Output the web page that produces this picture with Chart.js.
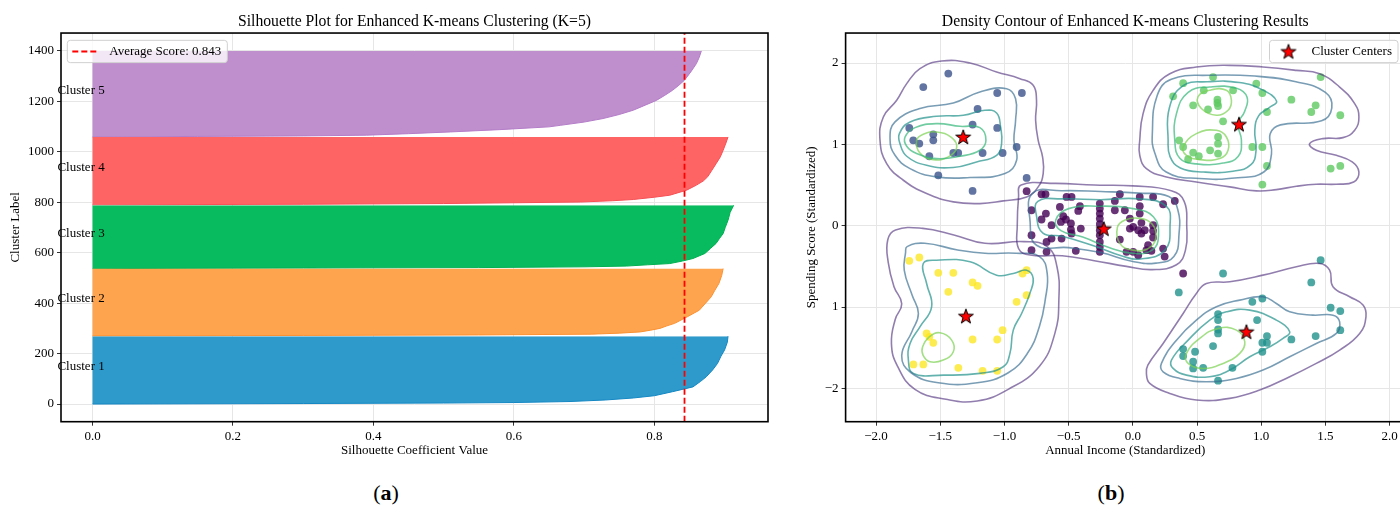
<!DOCTYPE html>
<html lang="en">
<head>
<meta charset="UTF-8">
<title>Enhanced K-means clustering: silhouette and density contour</title>
<script src="https://cdn.jsdelivr.net/npm/chart.js"></script>
<style>
  html, body { margin: 0; padding: 0; background: #fff; }
  body { width: 1400px; height: 516px; overflow: hidden; position: relative; font-family: "Liberation Serif", "Times New Roman", serif; }
  #silhouette { position: absolute; left: 0; top: 0; }
  #density { position: absolute; left: 790px; top: 0; }
  .tag { position: absolute; top: 480px; font-size: 22px; line-height: 26px; color: #000; transform: translateX(-50%); }
</style>
</head>
<body>
<canvas id="silhouette" width="790" height="470"></canvas>
<canvas id="density" width="630" height="470"></canvas>
<div class="tag" style="left:386px">(<b>a</b>)</div>
<div class="tag" style="left:1111px">(<b>b</b>)</div>

<script>
  // ---------- (a) silhouette: [position on cluster axis, silhouette coefficient] ----------
  const silCluster1 = [[0,0],[2,0.3],[4,0.5],[6,0.6],[10,0.68],[16,0.73],[24,0.77],[33,0.80],[49,0.826],[68,0.855],[90,0.866],[108,0.874],[135,0.883],[161,0.89],[190,0.895],[214,0.90],[245,0.904],[269,0.905]];
  const silCluster2 = [[270,0],[272,0.3],[274,0.55],[277,0.71],[281,0.75],[286,0.78],[293,0.795],[300,0.808],[310,0.818],[320,0.829],[346,0.847],[372,0.864],[400,0.873],[425,0.881],[450,0.886],[478,0.892],[510,0.896],[537,0.898]];
  const silCluster3 = [[537,0],[539,0.3],[541,0.55],[544,0.70],[547,0.76],[552,0.79],[557,0.822],[567,0.84],[577,0.855],[597,0.872],[617,0.88],[637,0.888],[657,0.893],[676,0.898],[700,0.901],[729,0.905],[760,0.908],[788,0.913]];
  const silCluster4 = [[790,0],[792,0.3],[795,0.5],[801,0.695],[806,0.74],[811,0.77],[820,0.80],[828,0.822],[848,0.846],[868,0.86],[885,0.87],[901,0.876],[927,0.882],[953,0.888],[980,0.894],[1006,0.898],[1035,0.902],[1059,0.905]];
  const silCluster5 = [[1059,0],[1061,0.15],[1063,0.3],[1066,0.39],[1072,0.45],[1079,0.51],[1088,0.58],[1099,0.65],[1105,0.666],[1118,0.70],[1132,0.727],[1148,0.75],[1165,0.77],[1185,0.787],[1204,0.803],[1224,0.815],[1244,0.826],[1264,0.835],[1284,0.843],[1317,0.852],[1350,0.86],[1375,0.864],[1400,0.867]];
  const silNames = ['Cluster 1', 'Cluster 2', 'Cluster 3', 'Cluster 4', 'Cluster 5'];
  const silColors = ['rgb(46,154,203)', 'rgb(255,164,78)', 'rgb(8,187,95)', 'rgb(255,100,100)', 'rgb(190,142,205)'];
  const silEdges = ['rgb(20,135,195)', 'rgb(250,145,50)', 'rgb(0,175,80)', 'rgb(245,80,85)', 'rgb(180,125,200)'];
  const averageScore = 0.843;
  const silXTicks = [0, 0.2, 0.4, 0.6, 0.8];
  const silXTickLabels = ['0.0', '0.2', '0.4', '0.6', '0.8'];
  const silYTicks = [0, 200, 400, 600, 800, 1000, 1200, 1400];
  const silYTickLabels = ['0', '200', '400', '600', '800', '1000', '1200', '1400'];
  const silXRange = [-0.0449, 0.9619];
  const silYRange = [-70, 1471];

  // ---------- (b) density contour: points [x, y] per cluster ----------
  const ptsCenter = [[-0.827,0.424],[-0.711,0.387],[-0.680,0.387],[-0.516,0.354],[-0.477,0.354],[-0.789,0.190],[-0.568,0.231],[-0.412,0.240],[-0.425,0.182],[-0.677,0.149],[-0.711,0.076],[-0.542,0.117],[-0.633,0.006],[-0.560,0.047],[-0.521,0.076],[-0.482,0.027],[-0.482,-0.047],[-0.477,-0.096],[-0.405,-0.035],[-0.789,-0.117],[-0.633,-0.158],[-0.672,-0.199],[-0.555,-0.158],[-0.789,-0.301],[-0.672,-0.321],[-0.444,-0.309],
    [-0.257,0.272],[-0.257,0.211],[-0.257,0.149],[-0.257,0.088],[-0.257,0.02],[-0.257,-0.055],[-0.257,-0.117],[-0.257,-0.199],[-0.257,-0.260],[-0.257,-0.321],
    [-0.101,0.387],[-0.140,0.305],[0.054,0.354],[0.158,0.354],[0.236,0.264],[0.327,0.305],[-0.140,0.190],[-0.062,0.190],[0.054,0.240],[0.054,0.149],[-0.023,0.088],[0.003,-0.014],[-0.023,-0.035],[0.042,-0.055],[0.093,-0.055],[0.067,-0.096],[0.067,0.035],[0.158,0.006],[0.158,-0.063],[0.158,-0.145],[-0.101,-0.170],[0.119,-0.240],[0.236,-0.281],[0.248,-0.38],[-0.049,-0.321],[0.003,-0.321],[0.042,-0.362],[0.106,-0.301],[0.145,-0.309],[0.392,-0.588]];
  const ptsUpperLeft = [[-1.437,1.870],[-1.632,1.705],[-1.056,1.632],[-0.864,1.632],[-1.209,1.435],[-1.248,1.243],[-1.056,1.202],[-1.741,1.202],[-1.554,1.124],[-1.554,1.050],[-1.710,1.050],[-1.663,1.010],[-1.585,0.854],[-1.398,0.894],[-1.360,0.894],[-1.170,0.894],[-1.014,0.894],[-0.905,0.968],[-1.515,0.620],[-0.827,0.587],[-1.248,0.428]];
  const ptsLowerRight = [[1.463,-0.424],[1.390,-0.698],[0.703,-0.588],[0.358,-0.821],[0.931,-0.936],[1.009,-0.895],[1.541,-1.009],[1.616,-1.050],[1.616,-1.284],[0.664,-1.087],[0.664,-1.161],[0.664,-1.276],[0.664,-1.325],[0.968,-1.161],[1.045,-1.357],[1.009,-1.439],[1.045,-1.439],[1.009,-1.550],[1.235,-1.398],[1.424,-1.357],[0.625,-1.480],[0.485,-1.550],[0.392,-1.517],[0.392,-1.603],[0.470,-1.673],[0.470,-1.755],[0.548,-1.747],[0.776,-1.747],[0.664,-1.906]];
  const ptsUpperRight = [[0.625,1.828],[0.392,1.753],[0.962,1.746],[0.314,1.591],[0.553,1.665],[0.781,1.665],[1.009,1.632],[1.463,1.828],[1.235,1.550],[0.470,1.480],[0.659,1.550],[0.659,1.509],[0.664,1.472],[0.586,1.431],[1.045,1.398],[1.424,1.480],[1.390,1.398],[1.616,1.358],[0.703,1.284],[0.361,1.050],[0.392,0.968],[0.470,0.899],[0.514,0.854],[0.431,0.817],[0.664,1.091],[0.664,1.009],[0.602,0.927],[0.664,0.887],[0.931,0.968],[1.009,0.968],[1.045,0.735],[1.541,0.702],[1.616,0.735],[1.009,0.506]];
  const ptsLowerLeft = [[-1.741,-0.432],[-1.663,-0.391],[-1.515,-0.579],[-1.398,-0.579],[-1.248,-0.698],[-1.209,-0.739],[-1.437,-0.813],[-0.859,-0.588],[-0.827,-0.547],[-0.827,-0.854],[-0.905,-0.936],[-1.014,-1.284],[-1.056,-1.399],[-1.248,-1.399],[-1.585,-1.366],[-1.554,-1.440],[-1.606,-1.325],[-1.709,-1.706],[-1.632,-1.706],[-1.359,-1.747],[-1.170,-1.784],[-1.056,-1.784]];
  const clusterCenters = [[-0.226,-0.037],[-1.321,1.091],[0.885,-1.304],[0.827,1.247],[-1.300,-1.112]];
  const pointColors = ['rgba(68,1,84,0.8)', 'rgba(59,82,139,0.8)', 'rgba(33,145,140,0.8)', 'rgba(94,201,98,0.8)', 'rgba(253,231,37,0.8)'];

  // density contour lines, [x, y] closed paths; level of each path in the matching *Levels array
  const contourCenter = [
    [[-0.87,0.50],[-0.60,0.52],[-0.30,0.50],[0.0,0.49],[0.30,0.43],[0.40,0.30],[0.42,0.0],[0.41,-0.30],[0.34,-0.48],[0.15,-0.54],[-0.05,-0.50],[-0.30,-0.43],[-0.55,-0.37],[-0.80,-0.36],[-0.89,-0.28],[-0.90,0.0],[-0.89,0.35]],
    [[-0.78,0.40],[-0.55,0.43],[-0.25,0.42],[0.05,0.40],[0.28,0.36],[0.35,0.20],[0.36,-0.10],[0.32,-0.38],[0.18,-0.46],[0.0,-0.44],[-0.25,-0.33],[-0.50,-0.27],[-0.75,-0.24],[-0.80,0.05]],
    [[-0.74,0.30],[-0.55,0.33],[-0.25,0.32],[0.05,0.33],[0.26,0.24],[0.29,0.0],[0.25,-0.30],[0.06,-0.41],[-0.09,-0.37],[-0.30,-0.25],[-0.55,-0.13],[-0.70,-0.09],[-0.75,0.12]],
    [[-0.60,0.07],[-0.50,0.21],[-0.257,0.24],[0.0,0.21],[0.16,0.11],[0.20,-0.13],[0.15,-0.30],[0.0,-0.34],[-0.18,-0.27],[-0.39,-0.14],[-0.56,-0.06]],
    [[-0.12,-0.02],[-0.06,0.07],[0.05,0.09],[0.15,0.02],[0.18,-0.15],[0.12,-0.28],[0.0,-0.30],[-0.10,-0.22]]
  ];
  const contourCenterLevels = [1, 2, 3, 4, 5];
  const contourUpperLeft = [
    [[-1.489,2.025],[-1.268,2.000],[-1.061,1.890],[-0.879,1.808],[-0.776,1.726],[-0.750,1.542],[-0.757,1.296],[-0.737,1.050],[-0.703,0.846],[-0.698,0.641],[-0.737,0.477],[-0.827,0.354],[-1.009,0.305],[-1.191,0.272],[-1.398,0.293],[-1.606,0.395],[-1.787,0.559],[-1.917,0.764],[-1.969,1.050],[-1.943,1.337],[-1.839,1.542],[-1.761,1.747],[-1.658,1.931]],
    [[-1.891,1.071],[-1.852,1.276],[-1.658,1.440],[-1.398,1.509],[-1.191,1.644],[-0.983,1.685],[-0.913,1.562],[-0.913,1.296],[-0.926,1.050],[-0.905,0.805],[-0.996,0.641],[-1.268,0.592],[-1.528,0.600],[-1.735,0.702],[-1.852,0.866]],
    [[-1.818,1.132],[-1.735,1.276],[-1.528,1.345],[-1.320,1.358],[-1.152,1.419],[-1.061,1.386],[-1.030,1.214],[-1.022,1.009],[-1.061,0.866],[-1.217,0.784],[-1.398,0.715],[-1.606,0.743],[-1.761,0.854],[-1.813,1.009]],
    [[-1.774,1.091],[-1.696,1.206],[-1.528,1.255],[-1.346,1.222],[-1.191,1.206],[-1.144,1.050],[-1.191,0.928],[-1.346,0.854],[-1.528,0.825],[-1.684,0.887],[-1.761,0.977]],
    [[-1.684,1.050],[-1.632,1.124],[-1.528,1.153],[-1.411,1.083],[-1.372,0.960],[-1.437,0.846],[-1.554,0.813],[-1.658,0.895]]
  ];
  const contourUpperLeftLevels = [1, 2, 3, 4, 5];
  const contourUpperRight = [
    [[0.054,1.050],[0.080,1.378],[0.158,1.664],[0.288,1.869],[0.495,1.951],[0.755,1.972],[1.014,1.951],[1.274,1.910],[1.455,1.869],[1.611,1.705],[1.728,1.501],[1.761,1.337],[1.728,1.173],[1.637,1.083],[1.481,1.071],[1.377,1.009],[1.429,0.927],[1.585,0.866],[1.709,0.784],[1.761,0.661],[1.720,0.538],[1.585,0.510],[1.429,0.510],[1.274,0.485],[1.118,0.444],[0.962,0.428],[0.755,0.477],[0.495,0.538],[0.262,0.600],[0.106,0.702],[0.054,0.866]],
    [[0.152,1.131],[0.19,1.60],[0.30,1.80],[0.60,1.85],[0.95,1.84],[1.27,1.77],[1.50,1.64],[1.55,1.45],[1.47,1.29],[1.15,1.24],[1.07,1.13],[1.08,0.88],[1.02,0.66],[0.82,0.59],[0.52,0.58],[0.26,0.66],[0.17,0.90]],
    [[0.275,1.050],[0.285,1.45],[0.39,1.72],[0.58,1.77],[0.83,1.76],[1.01,1.67],[1.12,1.53],[1.06,1.45],[0.98,1.35],[0.95,1.17],[0.96,0.93],[0.92,0.75],[0.78,0.67],[0.55,0.66],[0.37,0.71],[0.29,0.85]],
    [[0.327,1.050],[0.340,1.378],[0.431,1.64],[0.599,1.706],[0.807,1.69],[0.89,1.58],[0.87,1.40],[0.82,1.255],[0.846,1.050],[0.820,0.85],[0.703,0.77],[0.495,0.76],[0.366,0.83]],
    [[0.508,1.586],[0.599,1.665],[0.729,1.665],[0.768,1.542],[0.742,1.419],[0.651,1.358],[0.534,1.441]],
    [[0.392,0.968],[0.495,1.132],[0.651,1.173],[0.729,1.091],[0.742,0.927],[0.677,0.825],[0.521,0.813],[0.418,0.866]]
  ];
  const contourUpperRightLevels = [1, 2, 3, 4, 5, 5];
  const contourLowerLeft = [
    [[-1.848,-0.053],[-1.636,-0.033],[-1.394,-0.114],[-1.152,-0.216],[-0.848,-0.196],[-0.667,-0.257],[-0.591,-0.502],[-0.576,-0.910],[-0.606,-1.318],[-0.727,-1.727],[-0.970,-2.012],[-1.212,-2.155],[-1.455,-2.135],[-1.697,-2.012],[-1.833,-1.727],[-1.88,-1.45],[-1.85,-1.15],[-1.80,-0.96],[-1.86,-0.75],[-1.905,-0.45],[-1.909,-0.176]],
    [[-1.758,-0.257],[-1.621,-0.216],[-1.364,-0.298],[-1.152,-0.339],[-0.909,-0.339],[-0.727,-0.380],[-0.667,-0.584],[-0.682,-0.910],[-0.727,-1.237],[-0.818,-1.563],[-0.970,-1.808],[-1.212,-1.931],[-1.515,-1.931],[-1.727,-1.808],[-1.80,-1.60],[-1.72,-1.30],[-1.67,-1.08],[-1.72,-0.85],[-1.78,-0.55],[-1.77,-0.33]],
    [[-1.632,-0.465],[-1.528,-0.424],[-1.268,-0.444],[-1.061,-0.608],[-0.931,-0.588],[-0.827,-0.547],[-0.776,-0.649],[-0.802,-0.833],[-0.866,-1.079],[-0.931,-1.284],[-0.957,-1.570],[-1.009,-1.734],[-1.191,-1.816],[-1.476,-1.837],[-1.709,-1.816],[-1.748,-1.652],[-1.735,-1.448],[-1.658,-1.243],[-1.567,-0.997],[-1.606,-0.711]],
    [[-1.637,-1.489],[-1.585,-1.366],[-1.502,-1.317],[-1.411,-1.407],[-1.398,-1.550],[-1.476,-1.652],[-1.580,-1.673],[-1.634,-1.591]]
  ];
  const contourLowerLeftLevels = [1, 2, 3, 5];
  const contourLowerRight = [
    [[0.117,-1.714],[0.236,-1.448],[0.392,-1.079],[0.495,-0.833],[0.573,-0.710],[0.755,-0.690],[1.014,-0.608],[1.274,-0.505],[1.455,-0.464],[1.533,-0.546],[1.559,-0.751],[1.689,-0.874],[1.793,-0.976],[1.816,-1.120],[1.767,-1.325],[1.611,-1.529],[1.429,-1.693],[1.222,-1.857],[0.988,-2.021],[0.755,-2.123],[0.495,-2.144],[0.288,-2.062],[0.132,-1.939],[0.106,-1.816]],
    [[0.223,-1.693],[0.340,-1.407],[0.495,-1.161],[0.651,-0.997],[0.833,-0.915],[1.014,-0.874],[1.118,-0.956],[1.222,-1.059],[1.403,-1.100],[1.559,-1.100],[1.611,-1.182],[1.585,-1.325],[1.429,-1.448],[1.222,-1.611],[1.014,-1.775],[0.807,-1.878],[0.573,-1.919],[0.366,-1.878],[0.236,-1.796]],
    [[0.301,-1.652],[0.431,-1.407],[0.599,-1.161],[0.729,-1.059],[0.911,-1.038],[1.118,-1.161],[1.222,-1.304],[1.170,-1.386],[1.066,-1.489],[0.911,-1.611],[0.755,-1.775],[0.599,-1.857],[0.418,-1.837],[0.314,-1.755]],
    [[0.418,-1.570],[0.521,-1.386],[0.664,-1.263],[0.807,-1.284],[0.872,-1.427],[0.833,-1.570],[0.703,-1.693],[0.547,-1.755],[0.431,-1.693]]
  ];
  const contourLowerRightLevels = [1, 2, 3, 5];
  const levelColors = { 1: 'rgba(72,40,120,0.6)', 2: 'rgba(49,104,142,0.65)', 3: 'rgba(33,145,140,0.7)', 4: 'rgba(53,183,121,0.7)', 5: 'rgba(122,209,81,0.7)' };

  const denXTicks = [-2, -1.5, -1, -0.5, 0, 0.5, 1, 1.5, 2];
  const denXTickLabels = ['\u22122.0', '\u22121.5', '\u22121.0', '\u22120.5', '0.0', '0.5', '1.0', '1.5', '2.0'];
  const denYTicks = [-2, -1, 0, 1, 2];
  const denYTickLabels = ['\u22122', '1', '0', '1', '2'];
  const denXRange = [-2.237, 2.12];
  const denYRange = [-2.41, 2.369];

  // ---------- shared bits ----------
  const FONT = "'Liberation Serif', 'Times New Roman', serif";
  Chart.defaults.font.family = FONT;
  Chart.defaults.font.size = 13;
  Chart.defaults.color = '#000';

  function makeStar(R) {
    const c = document.createElement('canvas');
    const s = Math.ceil(R * 2 + 4);
    c.width = s; c.height = s;
    const g = c.getContext('2d');
    g.beginPath();
    for (let k = 0; k < 10; k++) {
      const r = k % 2 ? R * 0.4 : R;
      const a = -Math.PI / 2 + k * Math.PI / 5;
      const px = s / 2 + r * Math.cos(a), py = s / 2 + 0.6 + r * Math.sin(a);
      if (k) g.lineTo(px, py); else g.moveTo(px, py);
    }
    g.closePath();
    g.fillStyle = '#ff0000';
    g.fill();
    g.lineWidth = 1;
    g.strokeStyle = '#000';
    g.stroke();
    return c;
  }
  const starImg = makeStar(7.8);

  const framePlugin = {
    id: 'frame',
    afterDatasetsDraw(chart) {
      const { ctx, chartArea: a } = chart;
      ctx.save();
      ctx.strokeStyle = '#000';
      ctx.lineWidth = 1.6;
      ctx.strokeRect(a.left, a.top, a.right - a.left, a.bottom - a.top);
      ctx.restore();
    }
  };

  // matplotlib style legend box; right = true puts it in the upper right corner
  function drawLegendBox(chart, label, right, drawSample) {
    const { ctx, chartArea: a } = chart;
    ctx.save();
    ctx.font = '13px ' + FONT;
    const w = 42 + ctx.measureText(label).width + 6;
    const h = 22.3;
    const x = right ? a.right - 7 - w : a.left + 6.3;
    const y = a.top + 7.3;
    ctx.beginPath();
    ctx.roundRect(x, y, w, h, 3);
    ctx.fillStyle = 'rgba(255,255,255,0.8)';
    ctx.fill();
    ctx.strokeStyle = '#d0d0d0';
    ctx.lineWidth = 1;
    ctx.stroke();
    drawSample(ctx, x, y + h / 2);
    ctx.fillStyle = '#000';
    ctx.textBaseline = 'middle';
    ctx.textAlign = 'left';
    ctx.fillText(label, x + 42, y + h / 2 + 0.5);
    ctx.restore();
  }

  // ---------- (a) ----------
  const silClusters = [silCluster1, silCluster2, silCluster3, silCluster4, silCluster5];
  const silSets = silClusters.map((pts, i) => ({
    label: silNames[i],
    data: pts.map(p => ({ x: p[1], y: p[0] })),
    backgroundColor: silColors[i],
    borderColor: silEdges[i],
    borderWidth: 1,
    pointRadius: 0,
    tension: 0,
    fill: 'origin',
    order: 2
  }));
  const avgSet = {
    label: 'Average Score: ' + averageScore.toFixed(3),
    data: [{ x: averageScore, y: silYRange[0] }, { x: averageScore, y: silYRange[1] }],
    borderColor: '#ff0000',
    borderWidth: 1.8,
    borderDash: [6, 3],
    pointRadius: 0,
    fill: false,
    order: 1
  };

  const clusterLabelPlugin = {
    id: 'clusterLabels',
    afterDatasetsDraw(chart) {
      const { ctx, scales: { x, y } } = chart;
      ctx.save();
      ctx.font = '13px ' + FONT;
      ctx.fillStyle = '#000';
      ctx.textAlign = 'left';
      ctx.textBaseline = 'alphabetic';
      silClusters.forEach((pts, i) => {
        const mid = (pts[0][0] + pts[pts.length - 1][0]) / 2;
        ctx.fillText(silNames[i], x.getPixelForValue(-0.05), y.getPixelForValue(mid));
      });
      ctx.restore();
    }
  };

  const avgLegendPlugin = {
    id: 'avgLegend',
    afterDraw(chart) {
      drawLegendBox(chart, avgSet.label, false, (ctx, x, cy) => {
        ctx.strokeStyle = '#ff0000';
        ctx.lineWidth = 1.8;
        ctx.setLineDash([6, 3]);
        ctx.beginPath();
        ctx.moveTo(x + 5, cy);
        ctx.lineTo(x + 30, cy);
        ctx.stroke();
        ctx.setLineDash([]);
      });
    }
  };

  new Chart(document.getElementById('silhouette'), {
    type: 'line',
    data: { datasets: [...silSets, avgSet] },
    options: {
      indexAxis: 'y',
      responsive: false,
      animation: false,
      devicePixelRatio: 1,
      layout: { padding: { left: 0, right: 22, top: 0, bottom: 0 } },
      plugins: {
        legend: { display: false },
        tooltip: { enabled: false },
        title: {
          display: true,
          fullSize: false,
          text: 'Silhouette Plot for Enhanced K-means Clustering (K=5)',
          color: '#000',
          font: { size: 15.7, weight: 'normal' },
          padding: { top: 12.7, bottom: 1.5 }
        }
      },
      scales: {
        x: {
          type: 'linear',
          min: silXRange[0], max: silXRange[1],
          afterBuildTicks: s => { s.ticks = silXTicks.map(v => ({ value: v })); },
          afterFit: s => { s.height = 48.3; },
          ticks: { callback: (v, i) => silXTickLabels[i], autoSkip: false, maxRotation: 0, padding: 3, color: '#000' },
          grid: { color: '#e6e6e6', tickColor: '#333', tickLength: 4 },
          border: { display: false },
          title: { display: true, text: 'Silhouette Coefficient Value', color: '#000', font: { size: 13 }, padding: { top: 0, bottom: 11.2 } }
        },
        y: {
          type: 'linear',
          min: silYRange[0], max: silYRange[1],
          afterBuildTicks: s => { s.ticks = silYTicks.map(v => ({ value: v })); },
          afterFit: s => { s.width = 61; },
          ticks: { callback: (v, i) => silYTickLabels[i], autoSkip: false, padding: 3, color: '#000' },
          grid: { color: '#e6e6e6', tickColor: '#333', tickLength: 4 },
          border: { display: false },
          title: { display: true, text: 'Cluster Label', color: '#000', font: { size: 13 }, padding: { top: 8.2, bottom: 0 } }
        }
      }
    },
    plugins: [framePlugin, clusterLabelPlugin, avgLegendPlugin]
  });

  // ---------- (b) ----------
  // close each contour path into a smooth loop
  const closeLoopPlugin = {
    id: 'closeLoop',
    afterDatasetUpdate(chart, args) {
      const ds = chart.data.datasets[args.index];
      const line = args.meta.dataset;
      if (ds.closedPath && line) {
        line._loop = true;
        line._fullLoop = true;
        line._pointsUpdated = false;
        line._path = undefined;
        delete line._segments;
      }
    }
  };

  const denSets = [];
  denSets.push({
    type: 'scatter',
    label: 'Cluster Centers',
    data: clusterCenters.map(([x, y]) => ({ x, y })),
    pointStyle: starImg,
    pointRadius: 8,
    order: 0
  });
  [[contourCenter, contourCenterLevels], [contourUpperLeft, contourUpperLeftLevels], [contourUpperRight, contourUpperRightLevels],
   [contourLowerLeft, contourLowerLeftLevels], [contourLowerRight, contourLowerRightLevels]].forEach(([paths, levels]) => {
    paths.forEach((path, i) => {
      denSets.push({
        type: 'line',
        label: 'density level ' + levels[i],
        data: path.map(([x, y]) => ({ x, y })),
        closedPath: true,
        borderColor: levelColors[levels[i]],
        borderWidth: 1.6,
        pointRadius: 0,
        tension: 0.45,
        fill: false,
        order: 1
      });
    });
  });
  [ptsCenter, ptsUpperLeft, ptsLowerRight, ptsUpperRight, ptsLowerLeft].forEach((pts, i) => {
    denSets.push({
      type: 'scatter',
      label: 'Cluster ' + i,
      data: pts.map(([x, y]) => ({ x, y })),
      backgroundColor: pointColors[i],
      borderWidth: 0,
      pointRadius: 3.9,
      order: 2
    });
  });

  const centersLegendPlugin = {
    id: 'centersLegend',
    afterDraw(chart) {
      drawLegendBox(chart, denSets[0].label, true, (ctx, x, cy) => {
        ctx.drawImage(starImg, x + 19 - starImg.width / 2, cy - starImg.height / 2);
      });
    }
  };

  new Chart(document.getElementById('density'), {
    type: 'scatter',
    data: { datasets: denSets },
    options: {
      responsive: false,
      animation: false,
      devicePixelRatio: 1,
      layout: { padding: { left: 0, right: 15, top: 0, bottom: 0 } },
      plugins: {
        legend: { display: false },
        tooltip: { enabled: false },
        title: {
          display: true,
          fullSize: false,
          text: 'Density Contour of Enhanced K-means Clustering Results',
          color: '#000',
          font: { size: 15.7, weight: 'normal' },
          padding: { top: 12.7, bottom: 1.5 }
        }
      },
      scales: {
        x: {
          type: 'linear',
          min: denXRange[0], max: denXRange[1],
          afterBuildTicks: s => { s.ticks = denXTicks.map(v => ({ value: v })); },
          afterFit: s => { s.height = 48.3; },
          ticks: { callback: (v, i) => denXTickLabels[i], autoSkip: false, maxRotation: 0, padding: 3, color: '#000' },
          grid: { color: '#e6e6e6', tickColor: '#333', tickLength: 4 },
          border: { display: false },
          title: { display: true, text: 'Annual Income (Standardized)', color: '#000', font: { size: 13 }, padding: { top: 0, bottom: 11.2 } }
        },
        y: {
          type: 'linear',
          min: denYRange[0], max: denYRange[1],
          afterBuildTicks: s => { s.ticks = denYTicks.map(v => ({ value: v })); },
          afterFit: s => { s.width = 55.6; },
          ticks: { callback: (v, i) => denYTickLabels[i], autoSkip: false, padding: 3, color: '#000' },
          grid: { color: '#e6e6e6', tickColor: '#333', tickLength: 4 },
          border: { display: false },
          title: { display: true, text: 'Spending Score (Standardized)', color: '#000', font: { size: 13 }, padding: { top: 14.2, bottom: 0 } }
        }
      }
    },
    plugins: [closeLoopPlugin, framePlugin, centersLegendPlugin]
  });
</script>
</body>
</html>
